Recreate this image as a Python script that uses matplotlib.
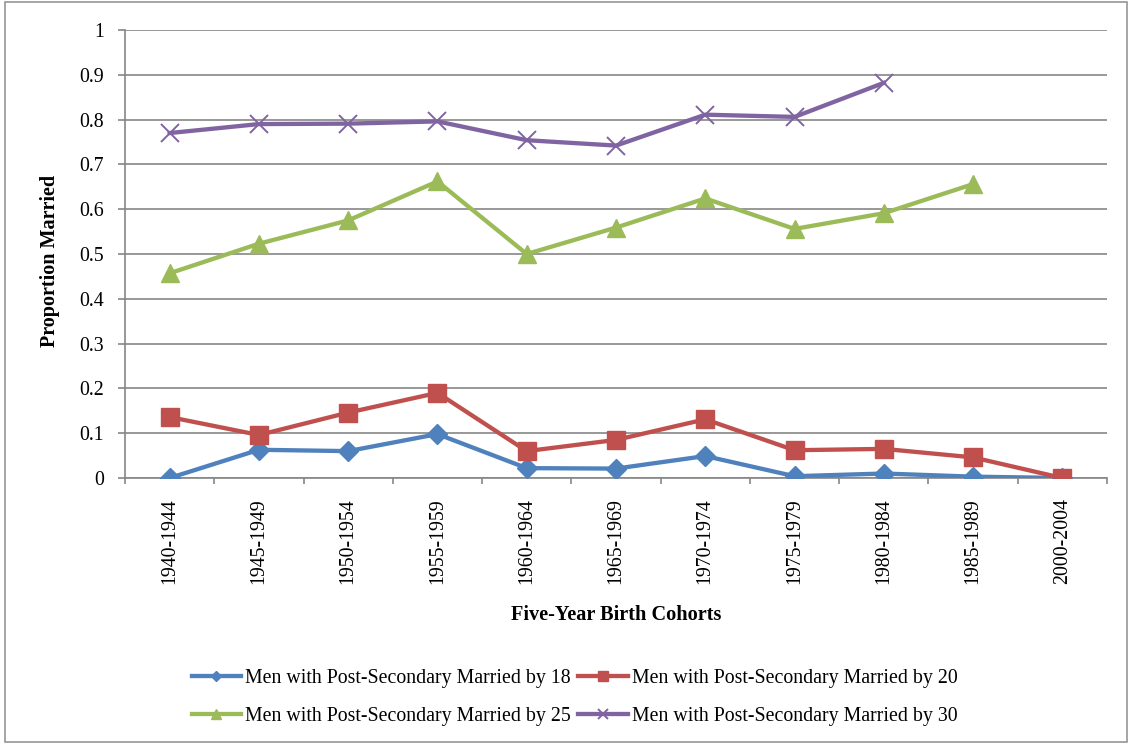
import numpy as np
import matplotlib
matplotlib.use("Agg")
import matplotlib.pyplot as plt
from matplotlib.patches import Rectangle

plt.rcParams['font.family'] = ['Liberation Serif', 'DejaVu Serif']

categories = ["1940-1944", "1945-1949", "1950-1954", "1955-1959", "1960-1964",
              "1965-1969", "1970-1974", "1975-1979", "1980-1984", "1985-1989", "2000-2004"]
married18 = [0.0, 0.063, 0.060, 0.098, 0.022, 0.021, 0.049, 0.004, 0.010, 0.003, 0.0]
married20 = [0.136, 0.096, 0.146, 0.190, 0.060, 0.085, 0.131, 0.062, 0.065, 0.046, 0.0]
married25 = [0.457, 0.523, 0.575, 0.662, 0.500, 0.559, 0.624, 0.556, 0.591, 0.656, np.nan]
married30 = [0.770, 0.790, 0.791, 0.796, 0.754, 0.742, 0.811, 0.806, 0.882, np.nan, np.nan]
yticks = [0, 0.1, 0.2, 0.3, 0.4, 0.5, 0.6, 0.7, 0.8, 0.9, 1]
ytick_labels = ["0", "0.1", "0.2", "0.3", "0.4", "0.5", "0.6", "0.7", "0.8", "0.9", "1"]
labels = ["Men with Post-Secondary Married by 18", "Men with Post-Secondary Married by 20",
          "Men with Post-Secondary Married by 25", "Men with Post-Secondary Married by 30"]

FS = 14.3
fig = plt.figure(figsize=(11.29, 7.44), dpi=100)
ax = fig.add_axes([125/1129, 1-478/744, (1107-125)/1129, (478-30)/744])

x = np.arange(len(categories))
lw = 3.1
h1, = ax.plot(x, married18, color='#4F81BD', lw=lw, marker='D', ms=10, label=labels[0], zorder=3)
h2, = ax.plot(x, married20, color='#C0504D', lw=lw, marker='s', ms=13, label=labels[1], zorder=3)
h3, = ax.plot(x, married25, color='#9BBB59', lw=lw, marker='^', ms=13.5, label=labels[2], zorder=3)
h4, = ax.plot(x, married30, color='#8064A2', lw=lw, marker='x', ms=12.5, mew=1.4, label=labels[3], zorder=3)

ax.set_xlim(-0.5, len(categories) - 0.5)
ax.set_ylim(0, 1)
ax.set_yticks(yticks)
ax.set_yticklabels(ytick_labels, fontsize=FS)
ax.set_xticks(x)
ax.set_xticklabels(categories, rotation=90, fontsize=FS)
ax.set_xticks(np.arange(-0.5, len(categories) + 0.5, 1), minor=True)
ax.tick_params(axis='x', which='major', length=0, pad=14.5)
ax.tick_params(axis='x', which='minor', length=4, color='#868686', width=1.2)
ax.tick_params(axis='y', length=5, color='#868686', width=1.2, pad=10)

ax.grid(axis='y', color='#868686', lw=1.2, zorder=0)
for s in ['top', 'right']:
    ax.spines[s].set_visible(False)
for s in ['left', 'bottom']:
    ax.spines[s].set_color('#868686')
    ax.spines[s].set_linewidth(1.2)

ax.set_ylabel("Proportion Married", fontsize=14.5, fontweight='bold')
ax.yaxis.set_label_coords((60-125)/982, 1-(261-30)/448)
ax.set_xlabel("Five-Year Birth Cohorts", fontsize=14.6, fontweight='bold')
ax.xaxis.set_label_coords(0.5, (478-605)/448)

fig.legend([h1, h3, h2, h4], [labels[0], labels[2], labels[1], labels[3]], ncol=2,
           loc='center', bbox_to_anchor=(574.5/1129, 1-697.5/744), frameon=False,
           fontsize=FS, handlelength=2.5, columnspacing=0.35, handletextpad=0.2,
           labelspacing=0.95, markerscale=0.55)

fig.patches.append(Rectangle((5/1129, 2/744), 1122/1129, 740/744, transform=fig.transFigure,
                             fill=False, edgecolor='#969696', lw=1.2))

fig.savefig("out.png", dpi=100)
